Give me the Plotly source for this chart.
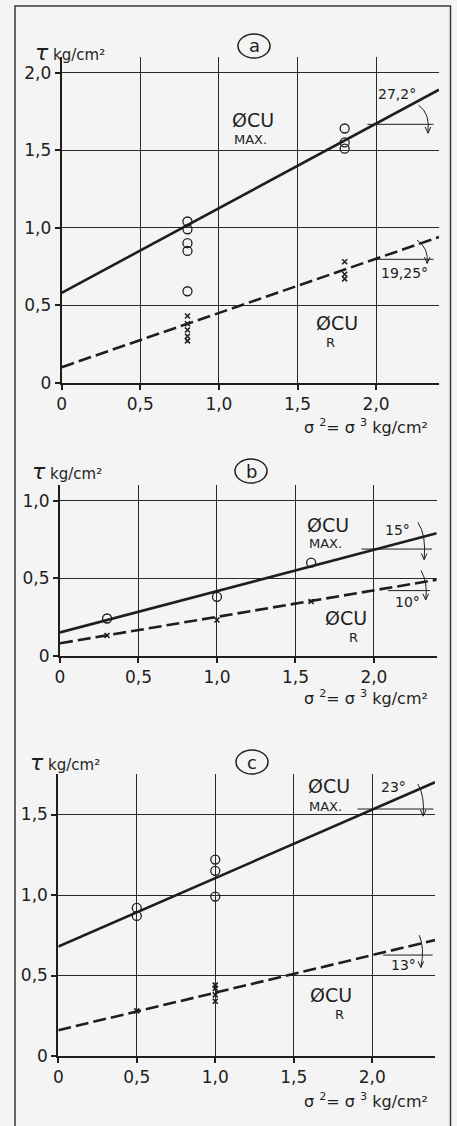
import plotly.graph_objects as go

# shear strength diagrams a, b, c: tau against sigma2 = sigma3 (kg/cm2)

tick_vals = [0, 0.5, 1.0, 1.5, 2.0]
tick_text = ['0', '0,5', '1,0', '1,5', '2,0']

# panel a
a_circ_x = [0.8, 0.8, 0.8, 0.8, 0.8, 1.8, 1.8, 1.8]
a_circ_y = [1.04, 0.99, 0.90, 0.85, 0.59, 1.64, 1.55, 1.51]
a_cross_x = [0.8, 0.8, 0.8, 0.8, 0.8, 1.8, 1.8, 1.8]
a_cross_y = [0.43, 0.38, 0.34, 0.30, 0.27, 0.78, 0.70, 0.67]
a_max_line = [0.58, 1.89]
a_r_line = [0.10, 0.94]
a_angles = ['27,2°', '19,25°']

# panel b
b_circ_x = [0.3, 1.0, 1.6]
b_circ_y = [0.24, 0.38, 0.60]
b_cross_x = [0.3, 1.0, 1.6]
b_cross_y = [0.13, 0.23, 0.35]
b_max_line = [0.15, 0.79]
b_r_line = [0.08, 0.49]
b_angles = ['15°', '10°']

# panel c
c_circ_x = [0.5, 0.5, 1.0, 1.0, 1.0]
c_circ_y = [0.92, 0.87, 1.22, 1.15, 0.99]
c_cross_x = [0.5, 1.0, 1.0, 1.0, 1.0]
c_cross_y = [0.28, 0.44, 0.42, 0.38, 0.34]
c_max_line = [0.68, 1.70]
c_r_line = [0.16, 0.72]
c_angles = ['23°', '13°']

line_x = [0, 2.4]

W, H = 457, 1126
INK = '#1e1e1e'
BG = '#f4f4f4'
FONT = 'DejaVu Sans'

fig = go.Figure()

panels = [
    dict(
        key='a', ax='', circ=(a_circ_x, a_circ_y), cross=(a_cross_x, a_cross_y),
        max_line=a_max_line, r_line=a_r_line, angles=a_angles,
        xdom=(61.7, 439), y0=382.7, ppu=155, ymax=2.1,
        yticks=5, letter=(254, 46),
        max_lbl=(1.22, 1.695), r_lbl=(1.75, 0.385),
        max_ang=dict(txt=(2.13, 1.86), h=(1.945, 2.365, 1.667),
                     arc=(2.27, 1.79, 2.345, 1.74, 2.33, 1.61)),
        r_ang=dict(txt=(2.18, 0.708), h=(2.0, 2.365, 0.796),
                   arc=(2.26, 0.92, 2.335, 0.87, 2.325, 0.77)),
        tau=(33, 53), xt=(430, 427),
    ),
    dict(
        key='b', ax='2', circ=(b_circ_x, b_circ_y), cross=(b_cross_x, b_cross_y),
        max_line=b_max_line, r_line=b_r_line, angles=b_angles,
        xdom=(60, 436.7), y0=655.7, ppu=155, ymax=1.1,
        yticks=3, letter=(251, 471),
        max_lbl=(1.71, 0.846), r_lbl=(1.82, 0.243),
        max_ang=dict(txt=(2.15, 0.811), h=(1.92, 2.37, 0.688),
                     arc=(2.28, 0.86, 2.335, 0.78, 2.32, 0.62)),
        r_ang=dict(txt=(2.215, 0.348), h=(2.09, 2.357, 0.42),
                   arc=(2.30, 0.55, 2.345, 0.47, 2.33, 0.36)),
        tau=(30, 471), xt=(430, 697),
    ),
    dict(
        key='c', ax='3', circ=(c_circ_x, c_circ_y), cross=(c_cross_x, c_cross_y),
        max_line=c_max_line, r_line=c_r_line, angles=c_angles,
        xdom=(58.3, 435), y0=1056, ppu=161, ymax=1.75,
        yticks=4, letter=(252, 762),
        max_lbl=(1.724, 1.674), r_lbl=(1.74, 0.379),
        max_ang=dict(txt=(2.135, 1.671), h=(1.906, 2.39, 1.534),
                     arc=(2.29, 1.69, 2.335, 1.62, 2.325, 1.49)),
        r_ang=dict(txt=(2.20, 0.565), h=(2.07, 2.385, 0.627),
                   arc=(2.30, 0.75, 2.335, 0.67, 2.31, 0.55)),
        tau=(28, 762), xt=(430, 1100),
    ),
]

annotations = []
shapes = []

for p in panels:

    xa = 'x' + p['ax']
    ya = 'y' + p['ax']

    fig.add_trace(go.Scatter(
        x=line_x, y=p['max_line'], mode='lines', xaxis=xa, yaxis=ya,
        line=dict(color=INK, width=2.6), showlegend=False, hoverinfo='skip',
    ))
    fig.add_trace(go.Scatter(
        x=line_x, y=p['r_line'], mode='lines', xaxis=xa, yaxis=ya,
        line=dict(color=INK, width=2.6, dash='13px,5px'), showlegend=False,
        hoverinfo='skip',
    ))
    fig.add_trace(go.Scatter(
        x=p['circ'][0], y=p['circ'][1], mode='markers', xaxis=xa, yaxis=ya,
        marker=dict(symbol='circle-open', size=9, color=INK, line=dict(width=1.3)),
        showlegend=False,
    ))
    fig.add_trace(go.Scatter(
        x=p['cross'][0], y=p['cross'][1], mode='markers', xaxis=xa, yaxis=ya,
        marker=dict(symbol='x-thin-open', size=5, color=INK, line=dict(width=1.6)),
        showlegend=False,
    ))

    x0, x1 = p['xdom']
    y0 = p['y0']
    ytop = y0 - p['ymax'] * p['ppu']
    n = p['yticks']

    axis_common = dict(
        showgrid=True, gridcolor='#2a2a2a', gridwidth=1,
        zeroline=False, showline=True, linecolor=INK, linewidth=2,
        ticks='outside', ticklen=5, tickcolor=INK, tickwidth=1.5,
        tickfont=dict(family=FONT, size=17, color=INK),
        fixedrange=True, automargin=False,
    )
    fig.layout['xaxis' + p['ax']] = dict(
        axis_common, domain=[x0 / W, x1 / W], range=[0, 2.4],
        tickvals=tick_vals, ticktext=tick_text, anchor=ya,
    )
    fig.layout['yaxis' + p['ax']] = dict(
        axis_common, domain=[1 - y0 / H, 1 - ytop / H], range=[0, p['ymax']],
        tickvals=tick_vals[:n], ticktext=tick_text[:n], anchor=xa,
    )

    # labels of the two envelopes
    annotations += [
        dict(x=p['max_lbl'][0], y=p['max_lbl'][1], xref=xa, yref=ya, text='ØCU',
             showarrow=False, font=dict(family=FONT, size=19, color=INK)),
        dict(x=p['max_lbl'][0] - 0.02, y=p['max_lbl'][1] - (0.128 if p['key'] == 'a' else 0.122),
             xref=xa, yref=ya, text='MAX.', showarrow=False,
             font=dict(family=FONT, size=13, color=INK)),
        dict(x=p['r_lbl'][0], y=p['r_lbl'][1], xref=xa, yref=ya, text='ØCU',
             showarrow=False, font=dict(family=FONT, size=19, color=INK)),
        dict(x=p['r_lbl'][0] + (-0.04 if p['key'] == 'a' else 0.05),
             y=p['r_lbl'][1] - 0.125 * 155 / p['ppu'],
             xref=xa, yref=ya, text='R', showarrow=False,
             font=dict(family=FONT, size=13, color=INK)),
    ]

    # axis captions, placed on the page
    tx, ty = p['tau']
    qx, qy = p['xt']
    annotations += [
        dict(x=tx / W, y=1 - ty / H, xref='paper', yref='paper',
             xanchor='left', yanchor='middle',
             text='<span style="font-size:22px"><i>τ</i></span> kg/cm²', showarrow=False,
             font=dict(family=FONT, size=15, color=INK)),
        dict(x=qx / W, y=1 - qy / H, xref='paper', yref='paper',
             xanchor='right', yanchor='middle',
             text='σ <sup>2</sup>= σ <sup>3</sup> kg/cm²', showarrow=False,
             font=dict(family=FONT, size=16, color=INK)),
    ]

    # angle marks: reference line, arc and a small arrow tip
    wing_dy = 0.04 * 155 / p['ppu']
    for ang, txt in ((p['max_ang'], p['angles'][0]), (p['r_ang'], p['angles'][1])):
        annotations.append(dict(
            x=ang['txt'][0], y=ang['txt'][1], xref=xa, yref=ya, text=txt,
            showarrow=False, font=dict(family=FONT, size=14, color=INK),
        ))
        hx0, hx1, hy = ang['h']
        shapes.append(dict(type='line', xref=xa, yref=ya, x0=hx0, x1=hx1, y0=hy, y1=hy,
                           line=dict(color=INK, width=1)))
        ax1, ay1, cx, cy, ax2, ay2 = ang['arc']
        tip = (f' M {ax2 - 0.018},{ay2 + wing_dy} L {ax2},{ay2}'
               f' L {ax2 + 0.018},{ay2 + wing_dy}')
        shapes.append(dict(type='path', xref=xa, yref=ya,
                           path=f'M {ax1},{ay1} Q {cx},{cy} {ax2},{ay2}' + tip,
                           line=dict(color=INK, width=1)))

    # circled panel letter
    lx, ly = p['letter']
    shapes.append(dict(type='circle', xref='paper', yref='paper',
                       x0=(lx - 16) / W, x1=(lx + 16) / W,
                       y0=1 - (ly + 12) / H, y1=1 - (ly - 12) / H,
                       line=dict(color=INK, width=1.5)))
    annotations.append(dict(x=lx / W, y=1 - ly / H, xref='paper', yref='paper',
                            xanchor='center', yanchor='middle',
                            text=p['key'], showarrow=False,
                            font=dict(family=FONT, size=18, color=INK)))

# outer frame
shapes.append(dict(type='rect', xref='paper', yref='paper',
                   x0=15 / W, x1=450.5 / W, y0=-0.01, y1=1 - 6 / H,
                   line=dict(color='#3a3a3a', width=1.5)))

fig.update_layout(
    width=W, height=H,
    margin=dict(l=0, r=0, t=0, b=0),
    paper_bgcolor=BG, plot_bgcolor=BG,
    annotations=annotations, shapes=shapes,
    showlegend=False,
)

# the page body has a default 8px margin; drop it so the figure fills the window
fig.write_html('out.html', config={'displayModeBar': False},
               post_script="document.body.style.margin='0';")
